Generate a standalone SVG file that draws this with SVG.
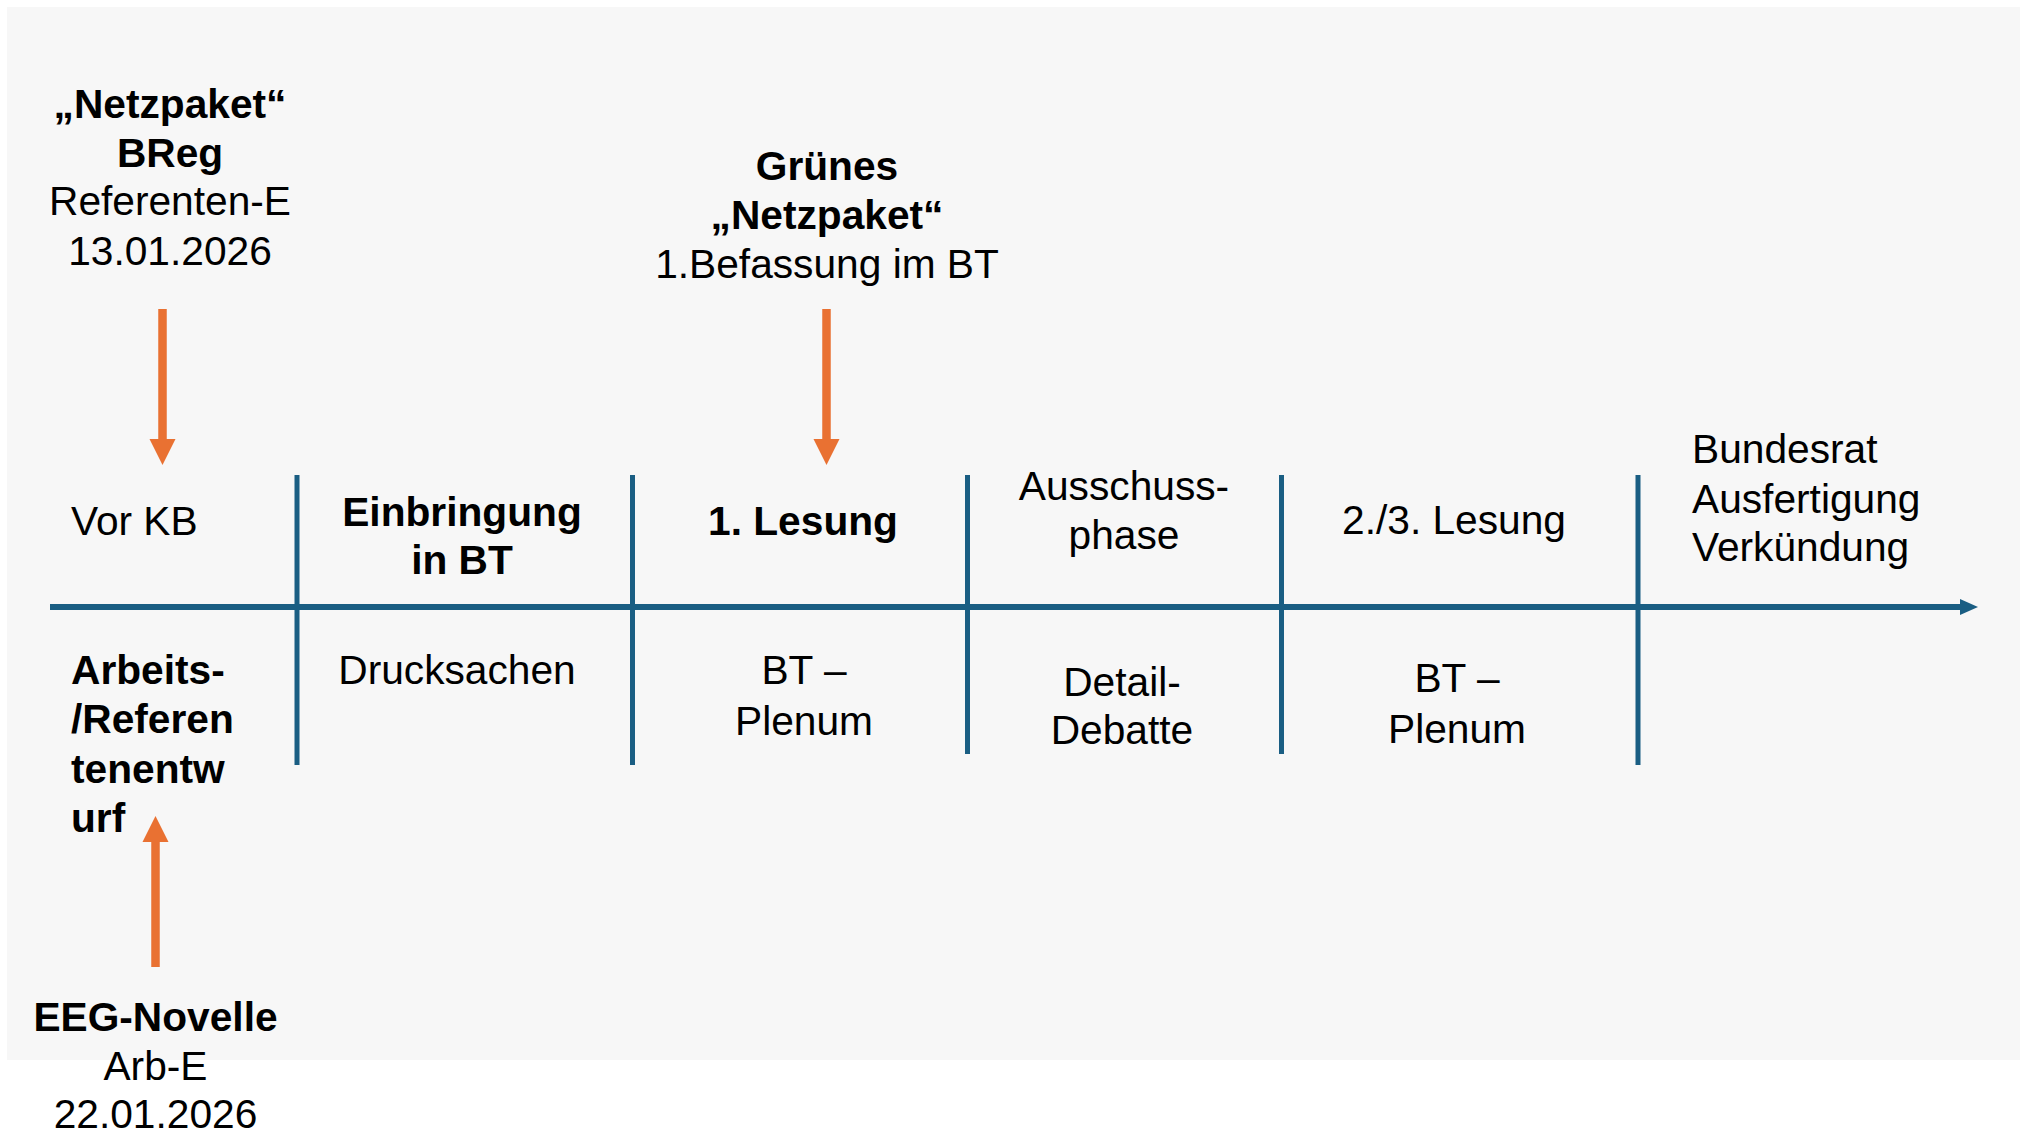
<svg xmlns="http://www.w3.org/2000/svg" width="2027" height="1134" viewBox="0 0 2027 1134">
  <style>
    text { font-family: "Liberation Sans", Arial, sans-serif; font-size: 40.7px; fill: #000; }
    .b { font-weight: bold; }
    .c { text-anchor: middle; }
    .axis { stroke: #1a5e83; stroke-width: 6; fill: none; }
    .div { stroke: #1a5e83; stroke-width: 5; fill: none; }
    .shaft { stroke: #e97132; stroke-width: 8.5; fill: none; }
    .head { fill: #e97132; }
  </style>
  <defs>
    <marker id="axisHead" markerUnits="userSpaceOnUse" markerWidth="20" markerHeight="18" refX="0" refY="8" orient="auto">
      <path d="M0,0 L18,8 L0,16 Z" fill="#1a5e83"/>
    </marker>
  </defs>

  <!-- background panel -->
  <rect x="7" y="7" width="2013" height="1053" fill="#f7f7f7"/>

  <!-- timeline axis and phase dividers -->
  <g id="connectors">
    <line class="axis" x1="50" y1="607" x2="1960" y2="607" marker-end="url(#axisHead)"/>
    <line class="div" x1="297" y1="475" x2="297" y2="765"/>
    <line class="div" x1="632.5" y1="475" x2="632.5" y2="765"/>
    <line class="div" x1="967.5" y1="475" x2="967.5" y2="754"/>
    <line class="div" x1="1281.5" y1="475" x2="1281.5" y2="754"/>
    <line class="div" x1="1638" y1="475" x2="1638" y2="765"/>

    <!-- event arrows -->
    <line class="shaft" x1="162.5" y1="309" x2="162.5" y2="440"/>
    <polygon class="head" points="149.5,439 175.5,439 162.5,465"/>
    <line class="shaft" x1="826.5" y1="309" x2="826.5" y2="440"/>
    <polygon class="head" points="813.5,439 839.5,439 826.5,465"/>
    <line class="shaft" x1="155.5" y1="967" x2="155.5" y2="841"/>
    <polygon class="head" points="142.5,842 168.5,842 155.5,816"/>
  </g>

  <!-- event notes -->
  <g id="netzpaket-breg">
    <text class="b c" x="170" y="118">„Netzpaket“</text>
    <text class="b c" x="170" y="167">BReg</text>
    <text class="c" x="170" y="215">Referenten-E</text>
    <text class="c" x="170" y="265">13.01.2026</text>
  </g>
  <g id="gruenes-netzpaket">
    <text class="b c" x="827" y="180">Grünes</text>
    <text class="b c" x="827" y="229">„Netzpaket“</text>
    <text class="c" x="827" y="278">1.Befassung im BT</text>
  </g>
  <g id="eeg-novelle">
    <text class="b c" x="155.5" y="1031">EEG-Novelle</text>
    <text class="c" x="155.5" y="1080">Arb-E</text>
    <text class="c" x="155.5" y="1128">22.01.2026</text>
  </g>

  <!-- phases -->
  <g id="phase-vor-kb">
    <text x="71" y="535">Vor KB</text>
    <text class="b" x="71" y="684">Arbeits-</text>
    <text class="b" x="71" y="733">/Referen</text>
    <text class="b" x="71" y="783">tenentw</text>
    <text class="b" x="71" y="832">urf</text>
  </g>
  <g id="phase-einbringung">
    <text class="b c" x="462" y="526">Einbringung</text>
    <text class="b c" x="462" y="574">in BT</text>
    <text class="c" x="457" y="684">Drucksachen</text>
  </g>
  <g id="phase-1-lesung">
    <text class="b c" x="803" y="535">1. Lesung</text>
    <text class="c" x="804" y="684">BT –</text>
    <text class="c" x="804" y="735">Plenum</text>
  </g>
  <g id="phase-ausschuss">
    <text class="c" x="1124" y="500">Ausschuss-</text>
    <text class="c" x="1124" y="549">phase</text>
    <text class="c" x="1122" y="696">Detail-</text>
    <text class="c" x="1122" y="744">Debatte</text>
  </g>
  <g id="phase-2-3-lesung">
    <text class="c" x="1454" y="534">2./3. Lesung</text>
    <text class="c" x="1457" y="692">BT –</text>
    <text class="c" x="1457" y="743">Plenum</text>
  </g>
  <g id="phase-bundesrat">
    <text x="1692" y="463">Bundesrat</text>
    <text x="1692" y="513">Ausfertigung</text>
    <text x="1692" y="561">Verkündung</text>
  </g>
</svg>
